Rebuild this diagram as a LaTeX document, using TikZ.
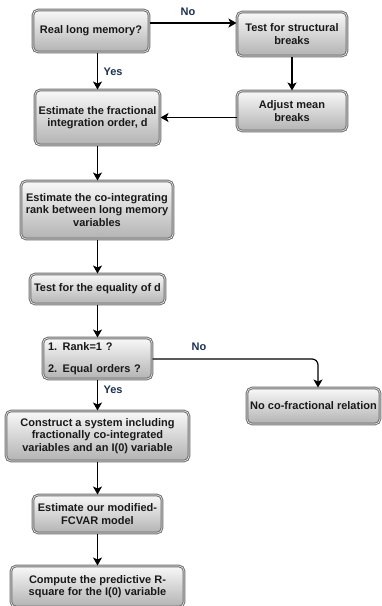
\documentclass[tikz,border=0pt]{standalone}
\usepackage{fontspec}
\setmainfont{Liberation Sans}
\usetikzlibrary{arrows.meta}
\definecolor{boxborder}{HTML}{6E6E6E}
\definecolor{lbl}{HTML}{1C3152}
\begin{document}
\begin{tikzpicture}[x=1pt,y=-1pt,
  box/.style={draw=boxborder, line width=1pt, double=white!90!gray, double distance=0.6pt,
    rounded corners=5pt, top color=white!95!gray, bottom color=gray!60,
    align=center, inner sep=2pt, font=\fontsize{11}{12.5}\selectfont\bfseries, text=black!90},
  arr/.style={-{Stealth[length=8pt,width=9pt,inset=2pt]}, line width=1.2pt, black},
  lab/.style={font=\fontsize{11}{12}\selectfont\bfseries, text=lbl}]
\useasboundingbox (0,0) rectangle (381,606);
\node[box, minimum width=116pt, minimum height=42pt] (real) at (91,31) {Real long memory?};
\node[box, minimum width=110pt, minimum height=44pt] (test) at (292,34) {Test for structural\\breaks};
\node[box, minimum width=110pt, minimum height=40pt] (adjust) at (292,111) {Adjust mean\\breaks};
\node[box, minimum width=125pt, minimum height=55pt] (estfrac) at (97.5,117.5) {Estimate the fractional\\integration order, d};
\node[box, minimum width=152pt, minimum height=58pt] (rank) at (97,210) {Estimate the co-integrating\\rank between long memory\\variables};
\node[box, minimum width=135pt, minimum height=30pt] (equal) at (97.5,289) {Test for the equality of d};
\node[box, minimum width=109pt, minimum height=41pt, align=left, text width=99pt] (cond) at (97.5,358.5) {1. Rank=1 ?\\[10pt]2. Equal orders ?};
\node[box, minimum width=133pt, minimum height=36pt] (nocf) at (313.5,406) {No co-fractional relation};
\node[box, minimum width=183pt, minimum height=50pt] (construct) at (97.5,436) {Construct a system including\\fractionally co-integrated\\variables and an I(0) variable};
\node[box, minimum width=129pt, minimum height=38pt] (fcvar) at (97.5,514) {Estimate our modified-\\FCVAR model};
\node[box, minimum width=173pt, minimum height=41pt] (compute) at (97.5,586.5) {Compute the predictive R-\\square for the I(0) variable};

\coordinate (r1) at (real.east |- 0,23);
\coordinate (t1) at (test.west |- 0,23);
\draw[arr] (r1) -- (t1);
\node[lab] (lno) at (188,12) {No};
\draw[arr] (real.south -| estfrac.north) -- (estfrac.north);
\node[lab, anchor=west] (lyes) at (100,72) {Yes};
\draw[arr] (test) -- (adjust);
\draw[arr] (adjust.west |- estfrac.east) -- (estfrac.east);
\draw[arr] (estfrac) -- (rank.north -| estfrac.south);
\draw[arr] (rank.south -| equal.north) -- (equal);
\draw[arr] (equal) -- (cond);
\coordinate (c1) at (cond.east |- 0,359);
\coordinate (c2) at (318,359);
\draw[arr, rounded corners=6pt] (c1) -- (c2) -- (c2 |- nocf.north);
\node[lab] (lno2) at (199,347) {No};
\draw[arr] (cond) -- (construct);
\node[lab, anchor=west] (lyes2) at (100,390) {Yes};
\draw[arr] (construct) -- (fcvar);
\draw[arr] (fcvar) -- (compute);
\end{tikzpicture}
\end{document}
